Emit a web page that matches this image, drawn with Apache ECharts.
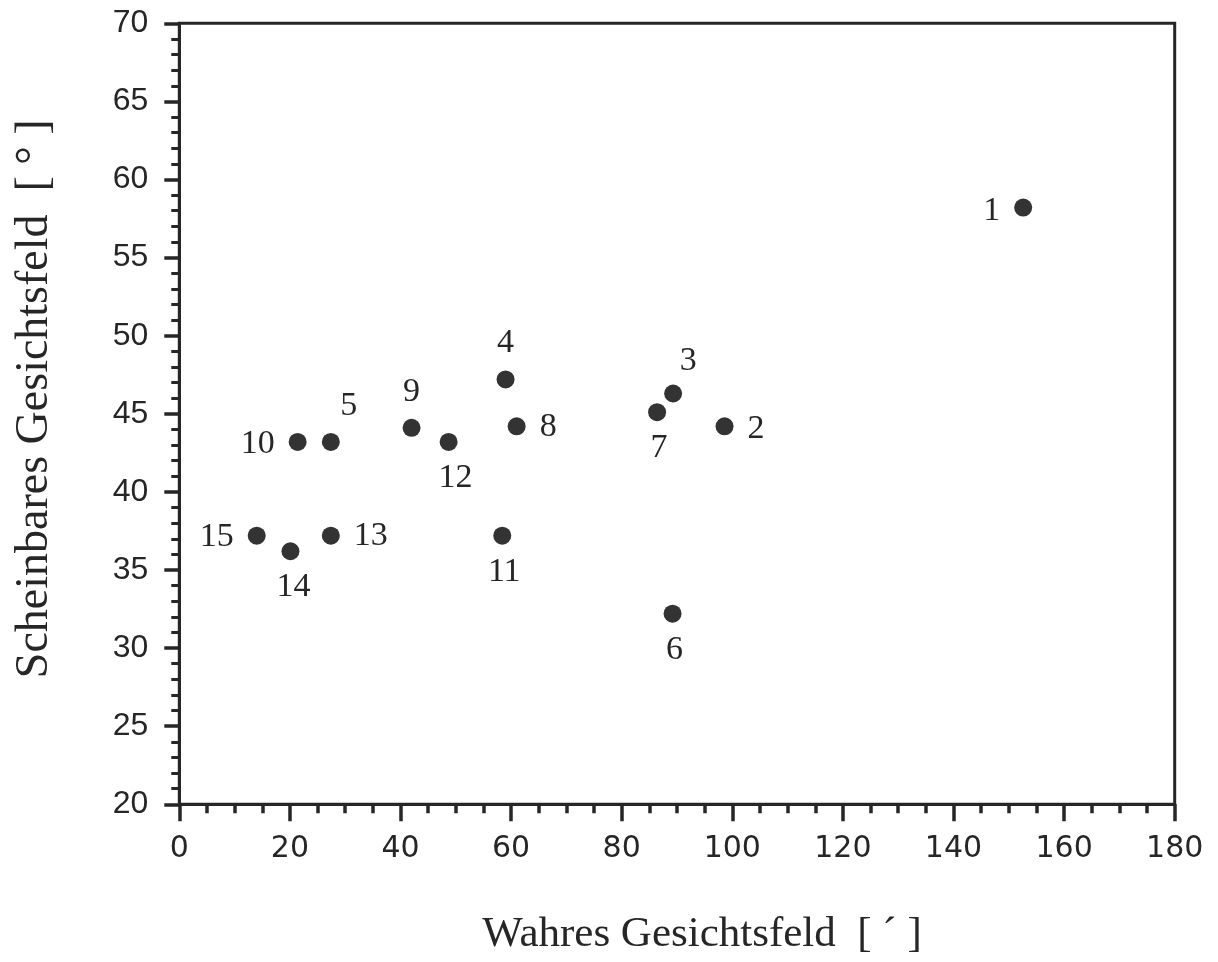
<!DOCTYPE html>
<html>
<head>
<meta charset="utf-8">
<script src="https://cdn.jsdelivr.net/npm/echarts@6/dist/echarts.min.js"></script>
<style>
html,body{margin:0;padding:0;background:#fff;}
#chart{width:1218px;height:962px;}
</style>
</head>
<body>
<div id="chart"></div>
<script>
// Data
const pointNames = ["1","2","3","4","5","6","7","8","9","10","11","12","13","14","15"];
const trueField = [152.6, 98.6, 89.3, 59.0, 27.4, 89.2, 86.4, 61.0, 42.0, 21.4, 58.4, 48.7, 27.4, 20.1, 14.0];
const apparentField = [58.2, 44.2, 46.3, 47.2, 43.2, 32.2, 45.1, 44.2, 44.1, 43.2, 37.2, 43.2, 37.2, 36.2, 37.2];
const xTickValues = [0, 20, 40, 60, 80, 100, 120, 140, 160, 180];
const yTickValues = [20, 25, 30, 35, 40, 45, 50, 55, 60, 65, 70];
const xAxisTitle = "Wahres Gesichtsfeld  [ \u00B4 ]";
const yAxisTitle = "Scheinbares Gesichtsfeld  [ \u00B0 ]";

// Label placement (style only)
const labelSide = ["left","right","top","top","top","bottom","bottom","right","top","left","bottom","bottom","right","bottom","left"];
const labelShift = [[0,3],[0,3],[15,4],[0,0],[18,0],[2,0],[2,0],[0,1],[0,0],[0,2],[2,0],[7,0],[0,0],[3,0],[0,1]];

const ink = "#262626";
const serif = "'Liberation Serif','Times New Roman',serif";

const seriesData = pointNames.map((n, i) => ({
  name: n,
  value: [trueField[i], apparentField[i]],
  label: {
    position: labelSide[i],
    offset: labelShift[i],
    distance: (labelSide[i] === "left" || labelSide[i] === "right") ? 14 : 10
  }
}));

const chart = echarts.init(document.getElementById('chart'), null, {renderer: 'canvas'});
chart.setOption({
  animation: false,
  backgroundColor: '#ffffff',
  grid: {
    left: 179.3, right: 43.3, top: 23.3, bottom: 157.7,
    show: true, borderColor: ink, borderWidth: 3, backgroundColor: 'transparent'
  },
  xAxis: {
    type: 'value',
    min: xTickValues[0], max: xTickValues[xTickValues.length - 1], interval: 20,
    name: xAxisTitle,
    nameLocation: 'middle',
    nameGap: 109,
    nameTextStyle: { fontFamily: serif, fontSize: 43, color: ink, padding: [0, 0, 0, 50] },
    axisLine: { show: true, onZero: false, lineStyle: { color: ink, width: 3 } },
    axisTick: { show: true, inside: false, length: 17, lineStyle: { color: ink, width: 3.5 } },
    minorTick: { show: true, splitNumber: 4, length: 9, lineStyle: { color: ink, width: 3.5 } },
    splitLine: { show: false },
    axisLabel: { margin: 30, fontFamily: "'DejaVu Sans',sans-serif", fontSize: 30, color: ink }
  },
  yAxis: {
    type: 'value',
    min: yTickValues[0], max: yTickValues[yTickValues.length - 1], interval: 5,
    name: yAxisTitle,
    nameLocation: 'middle',
    nameGap: 121,
    nameRotate: 90,
    nameTextStyle: { fontFamily: serif, fontSize: 46, color: ink, padding: [0, 0, 0, 30] },
    axisLine: { show: true, onZero: false, lineStyle: { color: ink, width: 3 } },
    axisTick: { show: true, inside: false, length: 15, lineStyle: { color: ink, width: 3.5 } },
    minorTick: { show: true, splitNumber: 5, length: 8, lineStyle: { color: ink, width: 3 } },
    splitLine: { show: false },
    axisLabel: { margin: 31, fontFamily: "'Liberation Sans',Arial,sans-serif", fontSize: 32, color: ink }
  },
  series: [{
    type: 'scatter',
    symbol: 'circle',
    symbolSize: 18,
    itemStyle: { color: '#333333', opacity: 1 },
    label: {
      show: true,
      formatter: p => p.name,
      fontFamily: serif,
      fontSize: 34,
      color: ink
    },
    emphasis: { disabled: true },
    data: seriesData
  }]
});
</script>
</body>
</html>
